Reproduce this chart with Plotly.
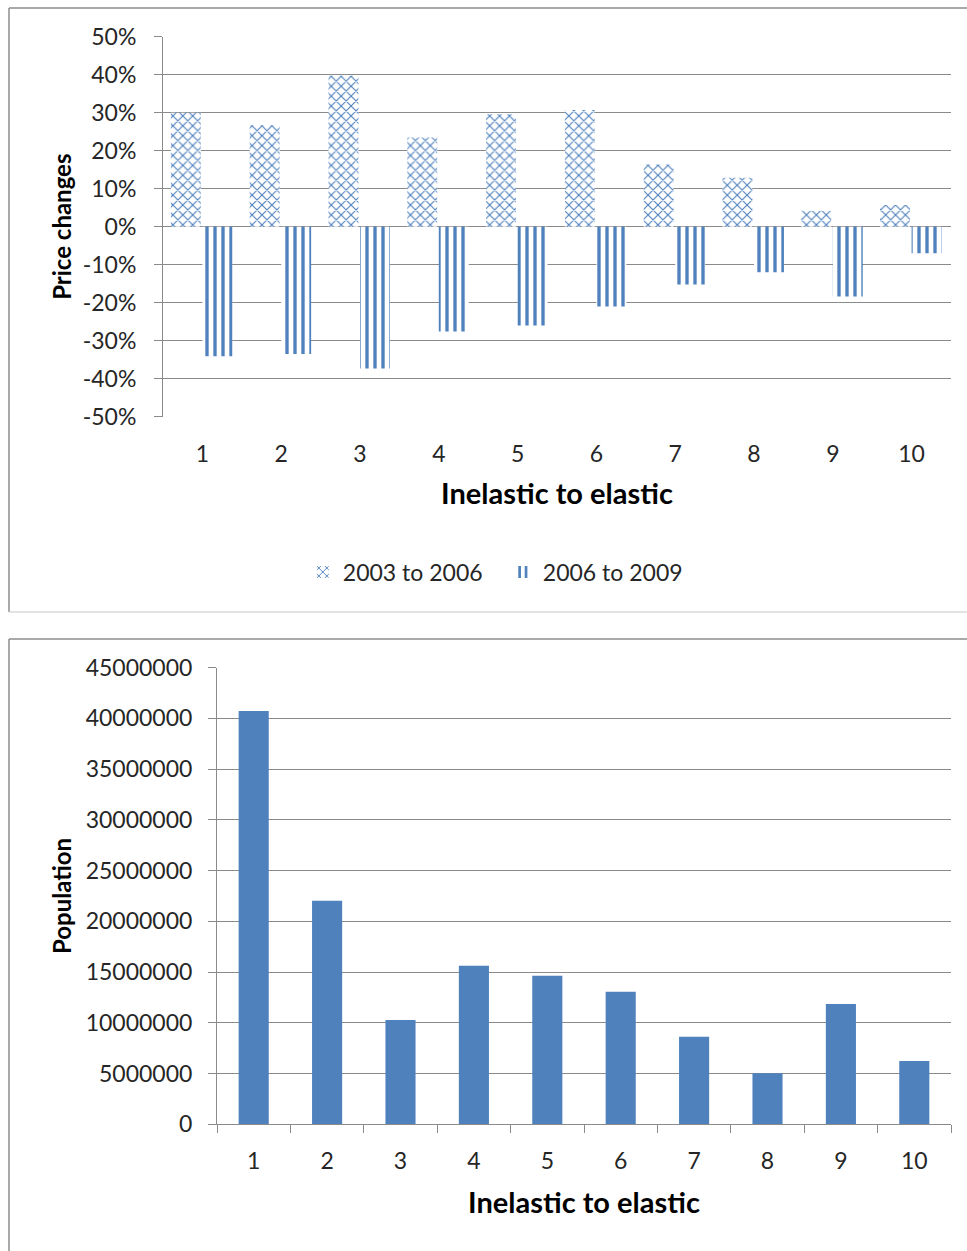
import plotly.graph_objects as go

# Decile groups, ordered from inelastic to elastic
categories = ["1", "2", "3", "4", "5", "6", "7", "8", "9", "10"]

# Price changes per decile (fractions)
change_2003_2006 = [0.300, 0.267, 0.397, 0.235, 0.296, 0.307, 0.164, 0.129, 0.042, 0.057]
change_2006_2009 = [-0.341, -0.335, -0.373, -0.276, -0.260, -0.210, -0.152, -0.120, -0.184, -0.070]

# Population per decile
population = [40730000, 22040000, 10280000, 15630000, 14650000,
              13070000, 8630000, 5030000, 11860000, 6240000]

pct_ticks = [-0.5, -0.4, -0.3, -0.2, -0.1, 0.0, 0.1, 0.2, 0.3, 0.4, 0.5]
pct_labels = ["-50%", "-40%", "-30%", "-20%", "-10%", "0%", "10%", "20%", "30%", "40%", "50%"]
pop_ticks = [0, 5000000, 10000000, 15000000, 20000000, 25000000,
             30000000, 35000000, 40000000, 45000000]
pop_labels = [str(v) for v in pop_ticks]

W, H = 967, 1251
BLUE = "#4F81BD"
GRID = "#8a8a8a"
TXT = "#262626"
FONT = "Lato"
TICK_SIZE = 23
XTITLE_SIZE = 29
YTITLE_SIZE = 24


def px_x(p):
    return p / W


def px_y(p):
    return 1 - p / H


top_dom_x = [px_x(163), px_x(951)]
top_dom_y = [px_y(416.7), px_y(36.7)]
bot_dom_x = [px_x(217), px_x(951)]
bot_dom_y = [px_y(1124.3), px_y(667.7)]
zero_pos = (top_dom_y[0] + top_dom_y[1]) / 2

fig = go.Figure()

fig.add_trace(go.Bar(
    x=categories, y=change_2003_2006, name="2003 to 2006",
    xaxis="x", yaxis="y", width=0.38, offset=-0.40,
    marker=dict(color="white", line=dict(width=0),
                pattern=dict(shape="x", fillmode="replace", fgcolor=BLUE,
                             bgcolor="white", size=7, solidity=0.3)),
))
fig.add_trace(go.Bar(
    x=categories, y=change_2006_2009, name="2006 to 2009",
    xaxis="x", yaxis="y", width=0.38, offset=0.0,
    marker=dict(color="white", line=dict(width=0),
                pattern=dict(shape="|", fillmode="replace", fgcolor=BLUE,
                             bgcolor="white", size=8, solidity=0.42)),
))
fig.add_trace(go.Bar(
    x=categories, y=population, name="Population",
    xaxis="x2", yaxis="y2", width=0.41, showlegend=False,
    marker=dict(color=BLUE, line=dict(width=0)),
))

tick_font = dict(family=FONT, size=TICK_SIZE, color=TXT)
xtitle_font = dict(family=FONT, size=XTITLE_SIZE, color="black", weight="bold")
ytitle_font = dict(family=FONT, size=YTITLE_SIZE, color="black", weight="bold")

fig.update_layout(
    width=W, height=H,
    margin=dict(l=0, r=0, t=0, b=0),
    paper_bgcolor="white", plot_bgcolor="white",
    template="none",
    barmode="overlay",
    font=dict(family=FONT, size=TICK_SIZE, color=TXT),
    showlegend=True,
    legend=dict(orientation="h", x=0.52, xanchor="center", y=px_y(572), yanchor="middle",
                font=dict(family=FONT, size=TICK_SIZE, color=TXT),
                bgcolor="rgba(0,0,0,0)", itemwidth=30, entrywidth=155),
    xaxis=dict(domain=top_dom_x, anchor="y", type="category",
               range=[-0.5, 9.5], showgrid=False, showline=False, zeroline=False,
               ticks="", tickfont=tick_font, ticklabelstandoff=21,
               automargin=False,
               title=dict(text="Inelastic to elastic", font=xtitle_font, standoff=17)),
    yaxis=dict(domain=top_dom_y, anchor="x", range=[-0.5, 0.5],
               tickvals=pct_ticks, ticktext=pct_labels,
               showgrid=True, gridcolor=GRID, gridwidth=1,
               showline=True, linecolor=GRID, linewidth=1, zeroline=False,
               ticks="outside", ticklen=8, tickcolor=GRID, tickfont=tick_font,
               ticklabelstandoff=13, automargin=False,
               title=dict(text="Price changes", font=ytitle_font, standoff=4)),
    # axis line crossing at 0% with tick marks between the groups
    xaxis3=dict(overlaying="x", anchor="free", position=zero_pos,
                range=[-0.5, 9.5], tickvals=[i - 0.5 for i in range(11)],
                showticklabels=False, showgrid=False, zeroline=False,
                showline=True, linecolor=GRID, linewidth=1,
                ticks="inside", ticklen=7, tickcolor=GRID, automargin=False),
    xaxis2=dict(domain=bot_dom_x, anchor="y2", type="category",
                range=[-0.5, 9.5], showgrid=False, zeroline=False,
                showline=True, linecolor=GRID, linewidth=1,
                ticks="outside", tickson="boundaries", ticklen=8, tickcolor=GRID,
                tickfont=tick_font, ticklabelstandoff=16, automargin=False,
                title=dict(text="Inelastic to elastic", font=xtitle_font, standoff=19)),
    yaxis2=dict(domain=bot_dom_y, anchor="x2", range=[0, 45000000],
                tickvals=pop_ticks, ticktext=pop_labels,
                showgrid=True, gridcolor=GRID, gridwidth=1,
                showline=True, linecolor=GRID, linewidth=1, zeroline=False,
                ticks="outside", ticklen=8, tickcolor=GRID, tickfont=tick_font,
                ticklabelstandoff=11, automargin=False,
                title=dict(text="Population", font=ytitle_font, standoff=7)),
)

# chart-area frames
frame = dict(type="line", xref="paper", yref="paper", layer="below")
fig.add_shape(**frame, x0=px_x(9), x1=1.02, y0=px_y(8), y1=px_y(8), line=dict(color="#8c8c8c", width=1.5))
fig.add_shape(**frame, x0=px_x(9), x1=px_x(9), y0=px_y(8), y1=px_y(612), line=dict(color="#8c8c8c", width=1.5))
fig.add_shape(**frame, x0=px_x(9), x1=1.02, y0=px_y(612), y1=px_y(612), line=dict(color="#d9d9d9", width=1.5))
fig.add_shape(**frame, x0=px_x(9), x1=1.02, y0=px_y(639), y1=px_y(639), line=dict(color="#8c8c8c", width=1.5))
fig.add_shape(**frame, x0=px_x(9), x1=px_x(9), y0=px_y(639), y1=-0.02, line=dict(color="#8c8c8c", width=1.5))

fig.write_html("out.html")
